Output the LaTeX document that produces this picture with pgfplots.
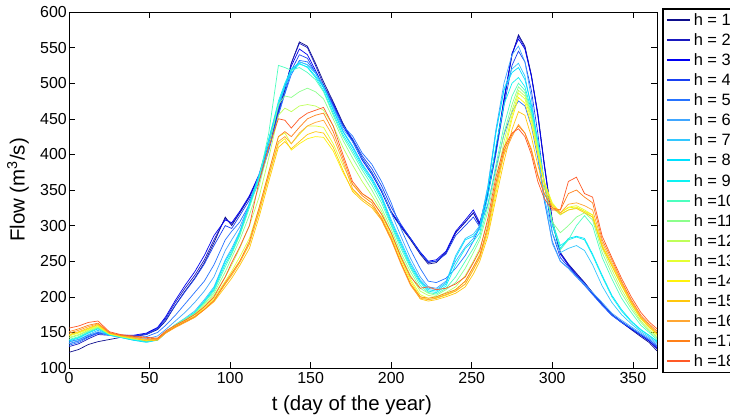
\documentclass[border=0pt]{standalone}
\usepackage{fontspec}
\setmainfont{Liberation Sans}
\usepackage{pgfplots}
\usepackage{pgfplotstable}
\pgfplotsset{compat=1.18}

\definecolor{c1}{rgb}{0.05,0.05,0.55}
\definecolor{c2}{rgb}{0.10,0.10,0.75}
\definecolor{c3}{rgb}{0.00,0.00,0.95}
\definecolor{c4}{rgb}{0.10,0.25,0.95}
\definecolor{c5}{rgb}{0.15,0.45,1.00}
\definecolor{c6}{rgb}{0.25,0.65,1.00}
\definecolor{c7}{rgb}{0.20,0.78,1.00}
\definecolor{c8}{rgb}{0.00,0.88,1.00}
\definecolor{c9}{rgb}{0.05,0.95,0.95}
\definecolor{c10}{rgb}{0.30,1.00,0.75}
\definecolor{c11}{rgb}{0.55,1.00,0.55}
\definecolor{c12}{rgb}{0.75,1.00,0.35}
\definecolor{c13}{rgb}{0.90,1.00,0.20}
\definecolor{c14}{rgb}{1.00,0.95,0.05}
\definecolor{c15}{rgb}{1.00,0.78,0.05}
\definecolor{c16}{rgb}{1.00,0.65,0.20}
\definecolor{c17}{rgb}{1.00,0.50,0.10}
\definecolor{c18}{rgb}{1.00,0.35,0.15}

\pgfplotstableread{
x h1 h2 h3 h4 h5 h6 h7 h8 h9 h10 h11 h12 h13 h14 h15 h16 h17 h18
0 122 130 134 137 132 134 136 138 139 140 142 143 145 146 147 149 151 156
6 126 134 138 140 136 138 140 142 143 144 146 147 149 150 151 153 155 159
12 133 141 144 146 143 145 147 149 150 151 152 153 154 155 156 158 160 164
18 137 147 149 150 149 151 153 155 156 156 157 158 159 160 161 162 163 166
25 140 146 147 147 146 146 146 146 147 147 148 148 148 148 149 149 150 151
32 143 146 146 146 145 144 143 143 143 144 144 144 145 145 145 146 146 147
40 144 145 146 145 143 141 139 139 140 140 141 141 142 142 142 143 144 145
48 147 148 149 147 144 141 137 136 137 138 139 139 139 139 138 140 142 143
55 154 156 157 155 150 145 140 139 140 141 141 141 140 140 139 140 141 142
60 166 170 172 168 160 154 150 149 150 151 151 151 150 150 149 149 150 152
66 188 192 195 188 174 166 161 160 160 161 160 160 159 158 157 157 158 160
72 208 212 216 207 190 178 170 168 168 169 168 167 166 165 164 164 165 167
78 226 230 235 225 206 192 180 178 178 177 176 175 173 172 171 171 172 175
84 248 252 258 246 222 208 196 194 193 192 190 188 186 184 182 182 182 186
90 276 280 286 272 245 228 214 212 210 208 205 202 198 196 193 194 195 200
97 312 310 308 300 280 265 252 250 246 242 235 228 222 218 214 218 220 228
101 300 302 304 296 292 280 268 265 262 260 255 245 236 232 226 230 233 248
106 318 318 320 314 305 298 292 290 288 286 280 268 256 250 244 248 250 270
112 340 340 342 336 330 330 332 330 328 325 315 300 282 275 268 274 278 300
118 370 370 372 366 362 366 372 370 368 366 355 340 325 318 312 320 325 362
124 412 412 414 408 405 414 422 420 420 430 410 395 375 368 362 370 375 410
130 460 462 465 458 455 466 472 470 475 525 470 455 425 415 410 418 425 450
134 490 492 495 486 485 494 498 495 500 522 482 465 430 422 418 425 432 448
138 528 528 524 518 512 518 518 515 520 518 480 460 415 406 408 415 425 437
143 558 556 548 540 532 530 530 527 528 522 488 468 428 415 418 430 438 450
148 552 550 540 535 530 526 526 523 522 515 493 470 440 422 428 440 450 458
153 528 525 518 515 515 514 514 510 508 505 488 468 440 425 432 445 455 462
158 502 498 495 494 495 496 496 494 490 488 478 462 438 424 430 448 458 466
164 474 472 470 468 468 466 463 462 458 455 450 440 415 405 410 425 432 440
170 444 442 440 440 440 436 433 432 428 425 420 410 385 375 378 390 395 400
176 420 420 418 422 426 418 412 410 406 402 395 385 358 350 348 352 358 362
182 394 395 392 398 402 394 387 385 382 378 372 362 345 338 335 338 342 345
188 374 375 372 380 386 374 367 365 362 357 350 342 335 328 325 328 332 336
194 348 350 348 356 362 350 342 340 337 332 325 320 316 312 308 308 310 316
200 318 320 318 326 332 318 308 305 302 300 295 290 288 285 280 280 282 290
206 298 300 300 302 296 285 278 275 272 268 262 258 255 252 248 246 248 256
212 280 282 282 282 266 254 248 245 242 240 235 230 225 222 218 216 218 228
218 260 262 263 262 240 228 224 222 220 216 212 208 203 200 197 198 200 212
223 246 248 250 249 222 214 212 210 208 206 205 202 198 196 194 196 198 214
228 248 250 252 250 220 212 210 208 206 204 202 200 199 198 196 198 200 210
234 262 262 264 260 226 222 220 218 215 212 210 206 203 202 200 203 205 212
240 290 290 292 286 240 250 258 255 245 228 220 214 210 208 205 208 210 218
246 305 305 308 300 258 270 282 280 268 250 240 230 222 218 214 218 222 228
251 318 318 322 312 278 282 288 285 278 268 262 250 242 238 232 238 242 248
255 302 300 304 298 298 300 300 295 290 285 280 268 260 255 250 255 258 265
260 345 345 348 342 330 355 355 350 340 328 320 305 295 290 285 295 300 310
265 405 405 408 400 380 435 432 430 412 385 375 360 350 345 338 355 360 368
270 475 475 478 468 428 500 492 490 470 440 430 418 408 400 390 400 405 410
275 540 540 542 525 460 540 520 515 500 482 470 462 455 450 435 425 428 430
279 568 566 562 545 475 552 528 522 508 500 495 490 486 480 460 442 440 436
283 552 550 548 530 468 530 510 505 495 490 486 482 478 472 455 430 430 425
287 512 510 510 490 440 480 465 470 462 458 455 452 448 442 425 408 405 400
291 458 455 456 430 395 410 400 420 418 415 410 408 405 400 385 372 370 362
295 388 385 386 360 335 340 340 360 362 362 360 362 362 360 352 345 345 338
300 308 305 305 290 278 275 290 300 305 305 305 325 332 330 328 325 325 322
305 262 262 260 255 250 250 262 268 272 266 290 315 318 318 316 318 322 322
310 246 245 244 242 240 240 268 282 280 280 300 322 326 325 322 330 345 362
315 233 232 230 230 228 228 272 285 284 300 312 325 328 326 324 332 350 368
320 220 220 218 218 216 218 265 282 280 314 318 320 322 320 318 328 340 345
325 206 205 204 205 203 206 245 260 258 300 308 312 315 315 312 322 332 340
331 190 190 188 190 188 192 215 230 228 255 262 268 272 272 270 276 280 285
337 175 175 174 175 174 177 192 202 200 225 232 238 244 245 243 248 252 255
343 164 165 164 165 164 167 175 182 180 198 205 210 216 218 216 220 222 226
349 154 155 155 156 156 158 162 166 165 178 183 187 190 192 191 194 196 200
355 144 146 146 147 147 149 151 154 153 160 164 166 169 170 170 172 174 178
360 136 138 138 140 140 142 144 146 146 150 152 154 157 158 158 160 162 165
365 124 127 128 130 131 133 135 137 138 140 142 144 146 148 148 150 152 155
}\flowdata

\begin{document}
\begin{tikzpicture}
\begin{axis}[
  at={(0,0)}, anchor=south west,
  scale only axis, width=588bp, height=356bp,
  xmin=0, xmax=365, ymin=100, ymax=600,
  xtick={0,50,...,350}, ytick={100,150,...,600},
  tick align=inside, major tick length=6bp,
  axis line style={line width=0.8bp},
  every tick/.style={black, line width=0.6bp},
  /pgf/number format/assume math mode=true,
  ticklabel style={font=\fontsize{16}{19}\selectfont},
  yticklabel style={inner xsep=2bp},
  xticklabel style={inner ysep=4bp},
  xlabel={t (day of the year)},
  ylabel={Flow (m\textsuperscript{3}/s)},
  label style={font=\fontsize{20.5}{24}\selectfont},
  xlabel style={at={(axis description cs:0.481,-0.104)}, anchor=center},
  ylabel style={at={(axis description cs:-0.0867,0.5)}, anchor=center},
  legend style={at={(1.0085,1.0112)}, anchor=north west, draw=black,
    line width=1.5bp, fill=white, font=\fontsize{16.5}{19}\selectfont,
    inner xsep=3bp, inner ysep=5.5bp, row sep=9.1bp, column sep=3bp,
    nodes={inner sep=0bp, text height=11bp, text depth=0bp}},
  legend cell align=left,
  legend image code/.code={\draw[#1, line width=2bp] (0bp,0bp) -- (23bp,0bp);},
  legend entries={h = 1,h = 2,h = 3,h = 4,h = 5,h = 6,h = 7,h = 8,h = 9,h =10,h =11,h =12,h =13,h =14,h =15,h =16,h =17,h =18},
  every axis plot/.append style={line width=0.7bp},
]
\addplot[c1] table[x=x,y=h1]{\flowdata};
\addplot[c2] table[x=x,y=h2]{\flowdata};
\addplot[c3] table[x=x,y=h3]{\flowdata};
\addplot[c4] table[x=x,y=h4]{\flowdata};
\addplot[c5] table[x=x,y=h5]{\flowdata};
\addplot[c6] table[x=x,y=h6]{\flowdata};
\addplot[c7] table[x=x,y=h7]{\flowdata};
\addplot[c8] table[x=x,y=h8]{\flowdata};
\addplot[c9] table[x=x,y=h9]{\flowdata};
\addplot[c10] table[x=x,y=h10]{\flowdata};
\addplot[c11] table[x=x,y=h11]{\flowdata};
\addplot[c12] table[x=x,y=h12]{\flowdata};
\addplot[c13] table[x=x,y=h13]{\flowdata};
\addplot[c14] table[x=x,y=h14]{\flowdata};
\addplot[c15] table[x=x,y=h15]{\flowdata};
\addplot[c16] table[x=x,y=h16]{\flowdata};
\addplot[c17] table[x=x,y=h17]{\flowdata};
\addplot[c18] table[x=x,y=h18]{\flowdata};
\end{axis}
\pgfresetboundingbox
\useasboundingbox (-69bp,-50bp) rectangle (661bp,368bp);
\end{tikzpicture}
\end{document}
